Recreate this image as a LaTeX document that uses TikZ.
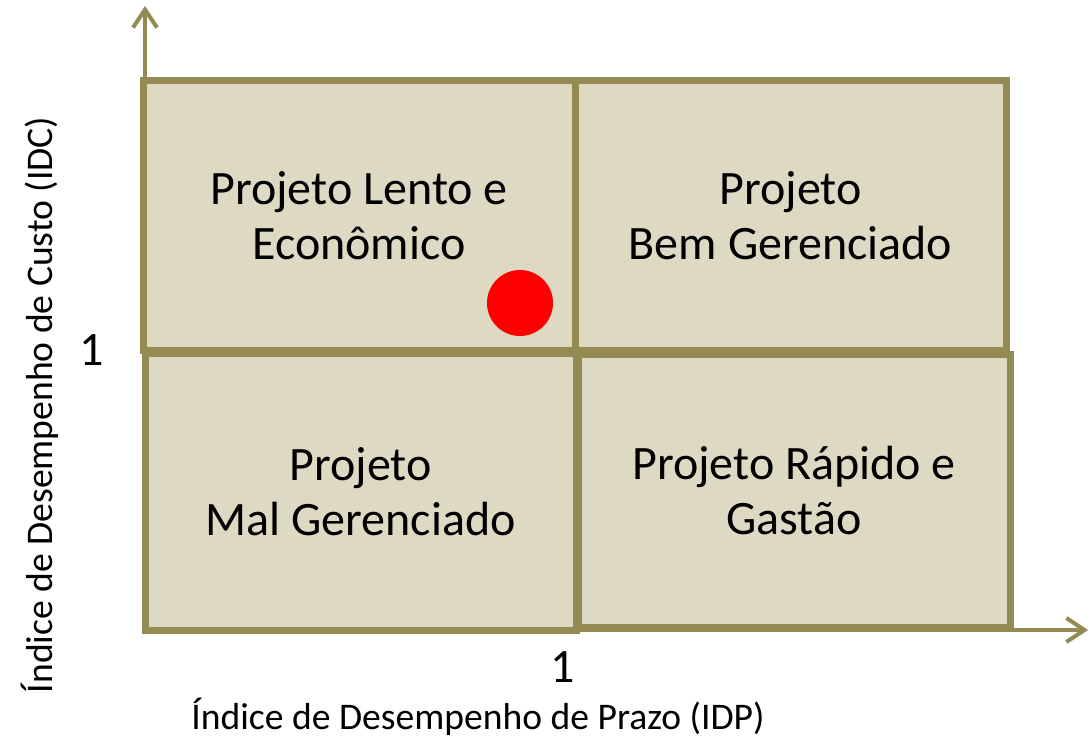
\documentclass[tikz,border=0pt]{standalone}
\usepackage{fontspec}
\setmainfont{Carlito}
\usetikzlibrary{arrows.meta}
\definecolor{borda}{HTML}{948A54}
\definecolor{fundo}{HTML}{DDD9C3}
\tikzset{
  quadrante/.style={draw=borda, fill=fundo, line width=3.5pt, inner sep=0pt,
    minimum width=#1, align=center, font=\fontsize{24}{27.5}\selectfont},
  eixo/.style={draw=borda, line width=2pt, -{Straight Barb[length=9pt,width=12pt]}}
}
\begin{document}
\begin{tikzpicture}[x=0.5pt, y=-0.5pt]
\useasboundingbox (0,0) rectangle (1089,738);
% eixos
\coordinate (origem) at (145,630);
\coordinate (topo) at (145,6);
\coordinate (fim) at (1088,630);
\draw[eixo] (origem) -- (topo);
\draw[eixo] (origem) -- (fim);
% quadrantes
\node[quadrante=216pt, minimum height=135pt] (lento) at (359,216) {Projeto Lento e\\Econômico};
\node[quadrante=215.5pt, minimum height=135pt] (bem) at (790.5,216) {Projeto\\Bem Gerenciado};
\node[quadrante=215.5pt, minimum height=138pt] (mal) at (360.5,492) {Projeto\\Mal Gerenciado};
\node[quadrante=216pt, minimum height=136pt] (rapido) at (794,491) {Projeto Rápido e\\Gastão};
% ponto do projeto
\fill[red] (520,303) circle (16.5pt);
% rotulos
\node[font=\fontsize{24}{28}\selectfont] (umy) at (92,350) {1};
\node[font=\fontsize{24}{28}\selectfont] (umx) at (563,667) {1};
\node[font=\fontsize{18.8}{22}\selectfont] (idp) at (478,717) {Índice de Desempenho de Prazo (IDP)};
\node[font=\fontsize{18.8}{22}\selectfont, rotate=90] (idc) at (40,405) {Índice de Desempenho de Custo (IDC)};
\end{tikzpicture}
\end{document}
